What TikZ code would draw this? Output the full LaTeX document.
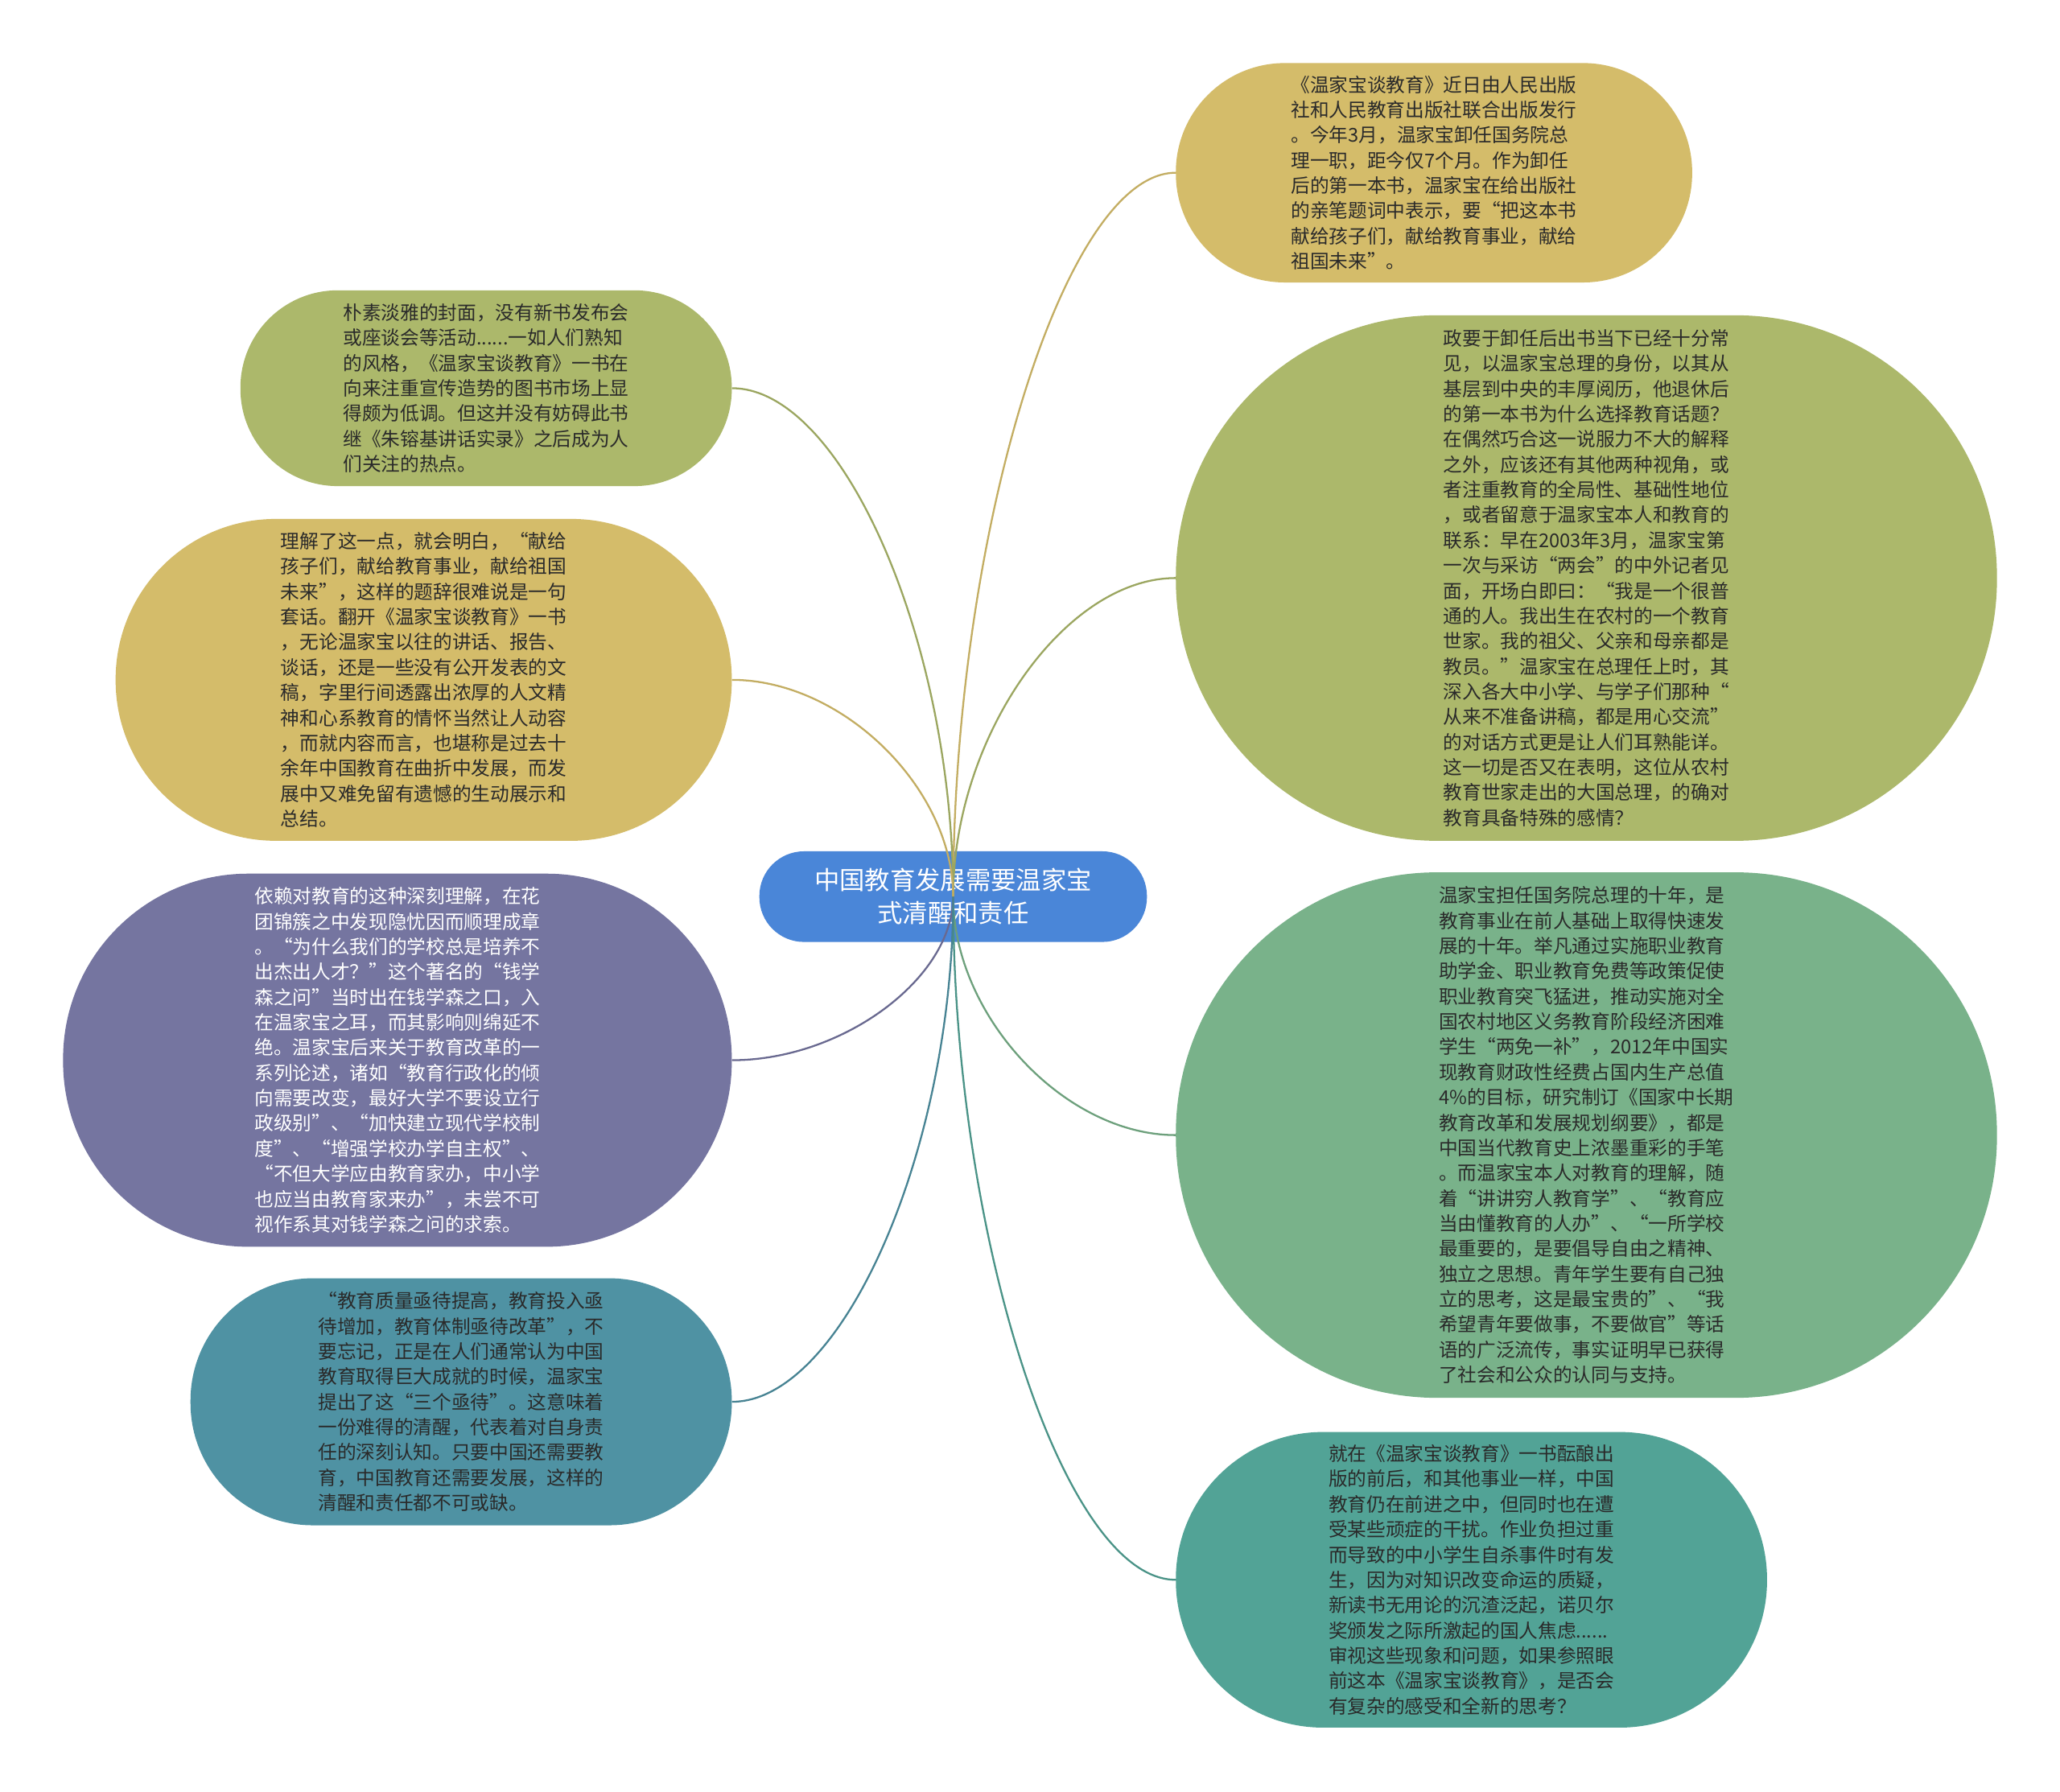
\documentclass[tikz,border=0pt]{standalone}
\usepackage{fontspec}
\setmainfont{Noto Sans CJK SC}
\usetikzlibrary{calc}
\definecolor{cYel}{HTML}{D4BC6A}
\definecolor{cOli}{HTML}{ACB86B}
\definecolor{cGrn}{HTML}{79B28A}
\definecolor{cTeaR}{HTML}{52A396}
\definecolor{cPur}{HTML}{7575A0}
\definecolor{cTeaL}{HTML}{4F92A3}
\definecolor{cRoot}{HTML}{4A86D8}
\definecolor{txtdark}{HTML}{2A2A2A}
\tikzset{
  leaf/.style={rectangle, align=left, inner sep=0pt, text=txtdark,
    font=\fontsize{14.5}{19.2}\selectfont},
  rootbox/.style={rectangle, align=center, inner sep=0pt, text=white, fill=cRoot,
    font=\fontsize{19.2}{25}\selectfont, minimum width=295pt, minimum height=69pt,
    rounded corners=34pt},
  conn/.style={line width=1.4pt},
}
\newcommand\branch[3]{%
  \coordinate (#3k) at (root.center |- #1);
  \draw[conn, draw=#2] (root.center) .. controls ($(#3k)!0.5!(root.center)$) and ($(#3k)!0.5!(#1)$) .. (#1);
}
\begin{document}
\begin{tikzpicture}[x=1pt,y=-1pt]
\fill[white] (0,0) rectangle (1568,1364);
\useasboundingbox (0,0) rectangle (1568,1364);

\node[leaf, fill=cYel, minimum width=393pt, minimum height=167pt, rounded corners=83pt] (tr) at (1091.5,131.5) {%
《温家宝谈教育》近日由人民出版\\
社和人民教育出版社联合出版发行\\
。今年3月，温家宝卸任国务院总\\
理一职，距今仅7个月。作为卸任\\
后的第一本书，温家宝在给出版社\\
的亲笔题词中表示，要“把这本书\\
献给孩子们，献给教育事业，献给\\
祖国未来”。};

\node[leaf, fill=cOli, minimum width=625pt, minimum height=400pt, rounded corners=199pt] (r2) at (1207.5,440) {%
政要于卸任后出书当下已经十分常\\
见，以温家宝总理的身份，以其从\\
基层到中央的丰厚阅历，他退休后\\
的第一本书为什么选择教育话题？\\
在偶然巧合这一说服力不大的解释\\
之外，应该还有其他两种视角，或\\
者注重教育的全局性、基础性地位\\
，或者留意于温家宝本人和教育的\\
联系：早在2003年3月，温家宝第\\
一次与采访“两会”的中外记者见\\
面，开场白即曰：“我是一个很普\\
通的人。我出生在农村的一个教育\\
世家。我的祖父、父亲和母亲都是\\
教员。”温家宝在总理任上时，其\\
深入各大中小学、与学子们那种“\\
从来不准备讲稿，都是用心交流”\\
的对话方式更是让人们耳熟能详。\\
这一切是否又在表明，这位从农村\\
教育世家走出的大国总理，的确对\\
教育具备特殊的感情？};

\node[leaf, fill=cGrn, minimum width=625pt, minimum height=400pt, rounded corners=199pt] (r3) at (1207.5,864) {%
温家宝担任国务院总理的十年，是\\
教育事业在前人基础上取得快速发\\
展的十年。举凡通过实施职业教育\\
助学金、职业教育免费等政策促使\\
职业教育突飞猛进，推动实施对全\\
国农村地区义务教育阶段经济困难\\
学生“两免一补”，2012年中国实\\
现教育财政性经费占国内生产总值\\
4\%的目标，研究制订《国家中长期\\
教育改革和发展规划纲要》，都是\\
中国当代教育史上浓墨重彩的手笔\\
。而温家宝本人对教育的理解，随\\
着“讲讲穷人教育学”、“教育应\\
当由懂教育的人办”、“一所学校\\
最重要的，是要倡导自由之精神、\\
独立之思想。青年学生要有自己独\\
立的思考，这是最宝贵的”、“我\\
希望青年要做事，不要做官”等话\\
语的广泛流传，事实证明早已获得\\
了社会和公众的认同与支持。};

\node[leaf, fill=cTeaR, minimum width=450pt, minimum height=225pt, rounded corners=112pt] (r4) at (1120,1202.5) {%
就在《温家宝谈教育》一书酝酿出\\
版的前后，和其他事业一样，中国\\
教育仍在前进之中，但同时也在遭\\
受某些顽症的干扰。作业负担过重\\
而导致的中小学生自杀事件时有发\\
生，因为对知识改变命运的质疑，\\
新读书无用论的沉渣泛起，诺贝尔\\
奖颁发之际所激起的国人焦虑......\\
审视这些现象和问题，如果参照眼\\
前这本《温家宝谈教育》，是否会\\
有复杂的感受和全新的思考？};

\node[leaf, fill=cOli, minimum width=374pt, minimum height=149pt, rounded corners=74pt] (l1) at (370,295.5) {%
朴素淡雅的封面，没有新书发布会\\
或座谈会等活动......一如人们熟知\\
的风格，《温家宝谈教育》一书在\\
向来注重宣传造势的图书市场上显\\
得颇为低调。但这并没有妨碍此书\\
继《朱镕基讲话实录》之后成为人\\
们关注的热点。};

\node[leaf, fill=cYel, minimum width=469pt, minimum height=245pt, rounded corners=122pt] (l2) at (322.5,517.5) {%
理解了这一点，就会明白，“献给\\
孩子们，献给教育事业，献给祖国\\
未来”，这样的题辞很难说是一句\\
套话。翻开《温家宝谈教育》一书\\
，无论温家宝以往的讲话、报告、\\
谈话，还是一些没有公开发表的文\\
稿，字里行间透露出浓厚的人文精\\
神和心系教育的情怀当然让人动容\\
，而就内容而言，也堪称是过去十\\
余年中国教育在曲折中发展，而发\\
展中又难免留有遗憾的生动展示和\\
总结。};

\node[leaf, fill=cPur, text=white, minimum width=509pt, minimum height=284pt, rounded corners=141pt] (l3) at (302.5,807) {%
依赖对教育的这种深刻理解，在花\\
团锦簇之中发现隐忧因而顺理成章\\
。“为什么我们的学校总是培养不\\
出杰出人才？”这个著名的“钱学\\
森之问”当时出在钱学森之口，入\\
在温家宝之耳，而其影响则绵延不\\
绝。温家宝后来关于教育改革的一\\
系列论述，诸如“教育行政化的倾\\
向需要改变，最好大学不要设立行\\
政级别”、“加快建立现代学校制\\
度”、“增强学校办学自主权”、\\
“不但大学应由教育家办，中小学\\
也应当由教育家来办”，未尝不可\\
视作系其对钱学森之问的求索。};

\node[leaf, fill=cTeaL, minimum width=412pt, minimum height=188pt, rounded corners=93pt] (l4) at (351,1067) {%
“教育质量亟待提高，教育投入亟\\
待增加，教育体制亟待改革”，不\\
要忘记，正是在人们通常认为中国\\
教育取得巨大成就的时候，温家宝\\
提出了这“三个亟待”。这意味着\\
一份难得的清醒，代表着对自身责\\
任的深刻认知。只要中国还需要教\\
育，中国教育还需要发展，这样的\\
清醒和责任都不可或缺。};

\node[rootbox] (root) at (725.5,682.5) {中国教育发展需要温家宝\\式清醒和责任};

\branch{tr.west}{cYel!92!black}{tr}
\branch{r2.west}{cOli!90!black}{r2}
\branch{r3.west}{cGrn!90!black}{r3}
\branch{r4.west}{cTeaR!90!black}{r4}
\branch{l1.east}{cOli!90!black}{l1}
\branch{l2.east}{cYel!92!black}{l2}
\branch{l3.east}{cPur!90!black}{l3}
\branch{l4.east}{cTeaL!90!black}{l4}
\end{tikzpicture}
\end{document}
